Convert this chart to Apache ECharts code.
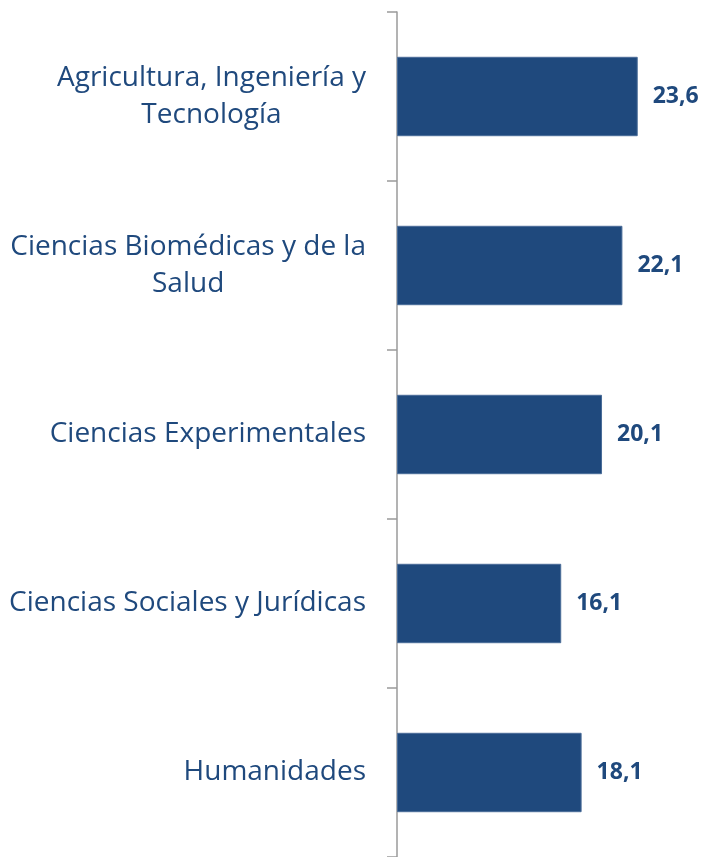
<!DOCTYPE html>
<html>
<head>
<meta charset="utf-8">
<script src="https://cdn.jsdelivr.net/npm/echarts@6/dist/echarts.min.js"></script>
<style>
  html, body { margin: 0; padding: 0; background: #fff; }
  #chart { width: 707px; height: 857px; }
</style>
</head>
<body>
<div id="chart"></div>
<script>
// 分类（自上而下）与数值
const categories = [
  'Agricultura, Ingeniería y\nTecnología',
  'Ciencias Biomédicas y de la\nSalud',
  'Ciencias Experimentales',
  'Ciencias Sociales y Jurídicas',
  'Humanidades',
];
const values = [23.6, 22.1, 20.1, 16.1, 18.1];

const BLUE = '#1F497D';
const fmt = (v) => v.toFixed(1).replace('.', ',');

const chart = echarts.init(document.getElementById('chart'));
chart.setOption({
  animation: false,
  grid: { left: 397, right: 4, top: 12, bottom: -1 },
  xAxis: {
    type: 'value', min: 0, max: 30,
    show: false,
  },
  yAxis: {
    type: 'category',
    inverse: true,
    data: categories,
    axisLine: { show: true, lineStyle: { color: '#9a9a9a', width: 1.5 } },
    axisTick: { show: true, length: 10, lineStyle: { color: '#9a9a9a', width: 1.5 } },
    axisLabel: {
      margin: 31,
      color: BLUE,
      fontFamily: 'Open Sans',
      fontSize: 28,
      lineHeight: 37,
      // 多行时每行居中，整体靠右
      formatter: (v) => v.split('\n').map((s) => `{c|${s}}`).join('\n'),
      rich: { c: { align: 'center', color: BLUE, fontFamily: 'Open Sans', fontSize: 28, lineHeight: 37 } },
    },
  },
  series: [{
    type: 'bar',
    data: values,
    barWidth: '47%',
    itemStyle: { color: BLUE, borderColor: '#4a6c98', borderWidth: 1 },
    label: {
      show: true,
      position: 'right',
      distance: 15,
      color: BLUE,
      fontFamily: 'Open Sans',
      fontWeight: 'bold',
      fontSize: 23,
      formatter: (p) => fmt(p.value),
    },
  }],
});
</script>
</body>
</html>
